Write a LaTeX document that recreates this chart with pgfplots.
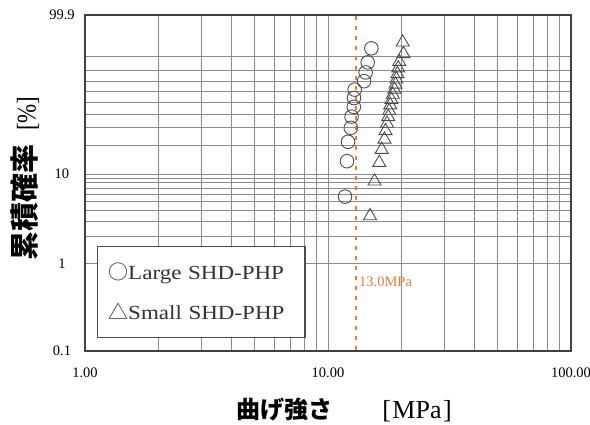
\documentclass[border=0pt]{standalone}
\usepackage{fontspec}
\usepackage{graphicx}
\usepackage{pgfplots}
\pgfplotsset{compat=1.18}
\setmainfont{Liberation Serif}
\newfontfamily\cjk{Noto Sans CJK JP}
\newfontfamily\legfont{Liberation Serif}[FakeStretch=1.15]
\definecolor{orangeC}{RGB}{237,125,49}
\pgfplotstableread{
x F
11.75 5.645
11.97 13.710
12.09 21.774
12.41 29.839
12.50 37.903
12.77 45.968
12.79 54.032
12.88 62.097
14.07 70.161
14.29 78.226
14.57 86.290
15.08 94.355
}\large
\pgfplotstableread{
x F
14.89 3.431
15.54 8.333
16.26 13.235
16.63 18.137
17.08 23.039
17.25 27.941
17.49 32.843
17.70 37.745
17.87 42.647
18.04 47.549
18.25 52.451
18.48 57.353
18.78 62.255
18.96 67.157
19.13 72.059
19.32 76.961
19.46 81.863
19.65 86.765
20.45 91.667
20.29 96.569
}\small
\begin{document}
\begin{tikzpicture}
\begin{axis}[
  scale only axis, width=486pt, height=336pt,
  xmode=log, log basis x=10,
  xmin=1, xmax=100,
  ymin=-6.9073, ymax=1.9327,
  xtick={1,10,100}, xticklabels={1.00,10.00,100.00},
  minor xtick={2,3,4,5,6,7,8,9,20,30,40,50,60,70,80,90},
  ytick={-6.9073,-4.6002,-2.2504,1.9327}, yticklabels={0.1,1,10,99.9},
  minor ytick={-3.9019,-3.4913,-3.1985,-2.9701,-2.7827,-2.6232,-2.4843,-2.3612,-1.4999,-1.0309,-0.6717,-0.3665,-0.0874,0.1856,0.4759,0.8340},
  grid=both,
  major grid style={black!45, line width=0.8pt},
  minor grid style={black!45, line width=0.8pt},
  major tick length=0pt, minor tick length=0pt,
  axis line style={black!75, line width=1.5pt},
  /pgf/number format/assume math mode=true,
  tick label style={font=\fontsize{14.5}{14.5}\selectfont, text=black},
  xticklabel style={anchor=center, yshift=-22pt},
  yticklabel style={anchor=center, xshift=-23pt},
  xlabel={{\cjk\bfseries 曲げ強さ}\hspace{50pt}{\fontsize{26}{26}\selectfont[\hspace{1.5pt}MPa\hspace{1.5pt}]}},
  xlabel style={at={(axis description cs:0.533,-0.1756)}, anchor=center, font=\fontsize{24}{24}\selectfont},
  ylabel={{\cjk\bfseries 累積確率}\hspace{14pt}\scalebox{0.85}[1]{\fontsize{27}{27}\selectfont[\%]}},
  ylabel style={at={(axis description cs:-0.1235,0.513)}, anchor=center, font=\fontsize{29}{29}\selectfont},
  y filter/.expression={ln(-ln(1-y/100))},
  clip=false,
]
\addplot[only marks, mark=o, mark size=6.8pt, draw=black!70, mark options={line width=0.9pt, fill=none}] table[x=x, y=F] {\large};
\addplot[only marks, mark=triangle, mark size=7.5pt, draw=black!70, mark options={line width=0.9pt, fill=none}] table[x=x, y=F] {\small};
\addplot[color=orangeC, line width=2pt, dash pattern=on 4pt off 6pt] coordinates {(13,0.1) (13,99.9)};
\node[anchor=west, text=orangeC, inner sep=0pt, font=\fontsize{14.5}{15}\selectfont] at (rel axis cs:0.5638,0.2054) {13.0MPa};
\end{axis}
\node[draw=black!70, line width=1.5pt, fill=white, anchor=south west, text width=186pt, inner xsep=10.5pt, inner ysep=0pt, minimum height=91pt, align=left, text=black!80, font=\legfont\fontsize{20}{40}\selectfont] at ([shift={(12pt,13pt)}]current axis.south west) {{\cjk ○}Large SHD-PHP\\{\cjk △}Small SHD-PHP};
\pgfresetboundingbox
\path[use as bounding box] ([shift={(-85pt,-73pt)}]current axis.south west) rectangle ([shift={(505pt,351pt)}]current axis.south west);
\end{tikzpicture}
\end{document}
